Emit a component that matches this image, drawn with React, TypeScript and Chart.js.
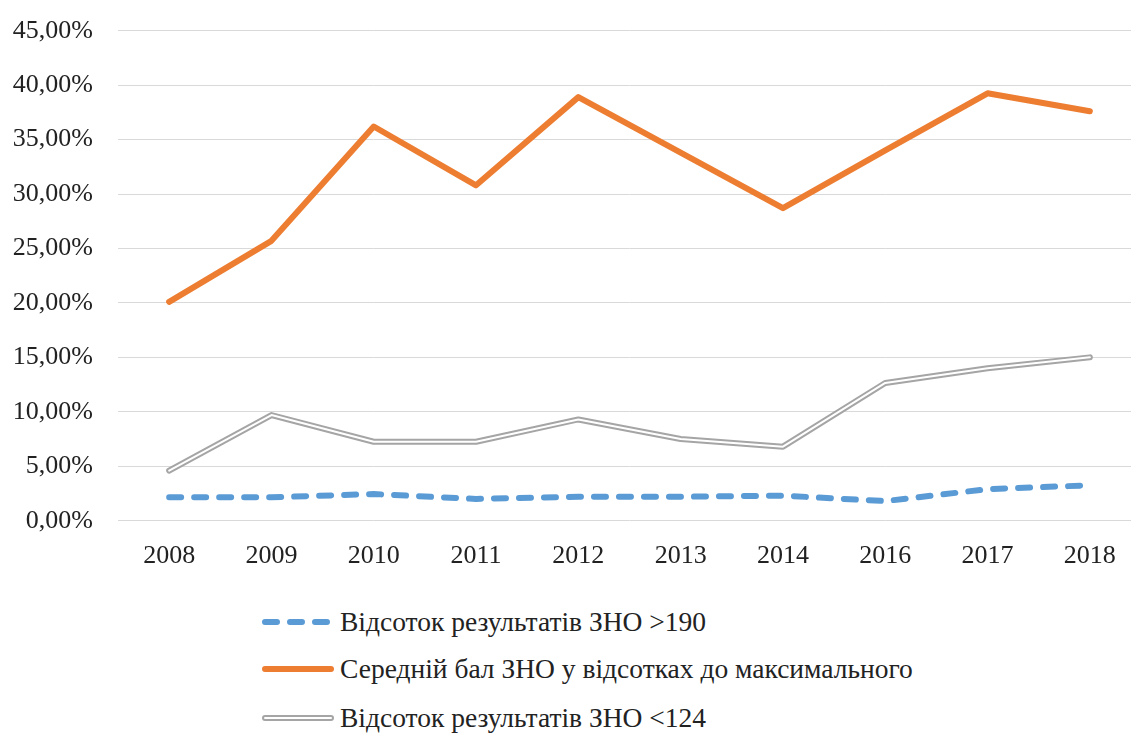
import React, { useEffect, useRef } from "react";
import { Chart, registerables } from "chart.js";

Chart.register(...registerables);

const years = ["2008", "2009", "2010", "2011", "2012", "2013", "2014", "2016", "2017", "2018"];
const above190 = [2.15, 2.15, 2.45, 2.0, 2.2, 2.2, 2.3, 1.8, 2.9, 3.25];
const averageScore = [20.1, 25.7, 36.2, 30.8, 38.9, 33.8, 28.7, 34.0, 39.25, 37.6];
const below124 = [4.6, 9.7, 7.25, 7.25, 9.3, 7.5, 6.8, 12.65, 14.0, 15.0];
const legendLabels = [
  "Відсоток результатів ЗНО >190",
  "Середній бал ЗНО у відсотках до максимального",
  "Відсоток результатів ЗНО <124",
];

const BLUE = "#5b9bd5";
const ORANGE = "#ed7d31";
const GRAY = "#a5a5a5";
const FONT = "'Liberation Serif', 'Times New Roman', serif";

export default function App() {
  const ref = useRef<HTMLCanvasElement | null>(null);

  useEffect(() => {
    if (!ref.current) return;
    const chart = new Chart(ref.current, {
      type: "line",
      data: {
        labels: years,
        datasets: [
          {
            data: above190,
            borderColor: BLUE,
            borderWidth: 6,
            borderDash: [12, 13],
            pointRadius: 0,
            borderCapStyle: "round",
            borderJoinStyle: "round",
            tension: 0,
          },
          {
            data: averageScore,
            borderColor: ORANGE,
            borderWidth: 6,
            pointRadius: 0,
            borderCapStyle: "round",
            borderJoinStyle: "round",
            tension: 0,
          },
          {
            data: below124,
            borderColor: "#ffffff",
            borderWidth: 2,
            pointRadius: 0,
            borderCapStyle: "round",
            borderJoinStyle: "round",
            tension: 0,
          },
          {
            data: below124,
            borderColor: GRAY,
            borderWidth: 6,
            pointRadius: 0,
            borderCapStyle: "round",
            borderJoinStyle: "round",
            tension: 0,
          },
        ],
      },
      options: {
        animation: false,
        responsive: false,
        maintainAspectRatio: false,
        layout: { padding: { top: 30.7, right: 4, bottom: 0, left: 0 } },
        plugins: { legend: { display: false }, tooltip: { enabled: false } },
        scales: {
          x: {
            offset: true,
            grid: { display: false, drawTicks: false },
            border: { display: false },
            ticks: {
              color: "#222",
              font: { family: FONT, size: 26 },
              padding: 20,
              maxRotation: 0,
            },
            afterFit: (s: any) => {
              s.height = 79.3;
            },
          },
          y: {
            min: 0,
            max: 45,
            grid: { color: "#d9d9d9", lineWidth: 1, drawTicks: false },
            border: { display: false },
            ticks: {
              stepSize: 5,
              color: "#222",
              font: { family: FONT, size: 26 },
              padding: 25,
              callback: (v: any) => Number(v).toFixed(2).replace(".", ",") + "%",
            },
            afterFit: (s: any) => {
              s.width = 118;
              s.paddingTop = 0;
              s.paddingBottom = 0;
            },
          },
        },
      },
    });
    return () => chart.destroy();
  }, []);

  const rowTops = [622, 669, 718];

  return (
    <div
      style={{
        position: "fixed",
        left: 0,
        top: 0,
        width: 1131,
        height: 736,
        overflow: "hidden",
        background: "#fff",
      }}
    >
      <canvas
        ref={ref}
        width={1145}
        height={600}
        style={{ position: "absolute", left: 0, top: 0, width: 1145, height: 600 }}
      />
      {legendLabels.map((label, i) => (
        <div
          key={i}
          style={{
            position: "absolute",
            left: 258,
            top: rowTops[i] - 20,
            height: 40,
            display: "flex",
            alignItems: "center",
            fontFamily: FONT,
            fontSize: 27.5,
            color: "#222",
            whiteSpace: "nowrap",
          }}
        >
          <svg width={80} height={20} style={{ display: "block", flex: "none" }}>
            {i === 0 && (
              <line x1={7} y1={10} x2={73} y2={10} stroke={BLUE} strokeWidth={6} strokeDasharray="12 13" strokeLinecap="round" />
            )}
            {i === 1 && (
              <line x1={7} y1={10} x2={73} y2={10} stroke={ORANGE} strokeWidth={6} strokeLinecap="round" />
            )}
            {i === 2 && (
              <g>
                <line x1={7} y1={10} x2={73} y2={10} stroke={GRAY} strokeWidth={6} strokeLinecap="round" />
                <line x1={7} y1={10} x2={73} y2={10} stroke="#fff" strokeWidth={2} strokeLinecap="round" />
              </g>
            )}
          </svg>
          <span style={{ marginLeft: 2 }}>{label}</span>
        </div>
      ))}
    </div>
  );
}
